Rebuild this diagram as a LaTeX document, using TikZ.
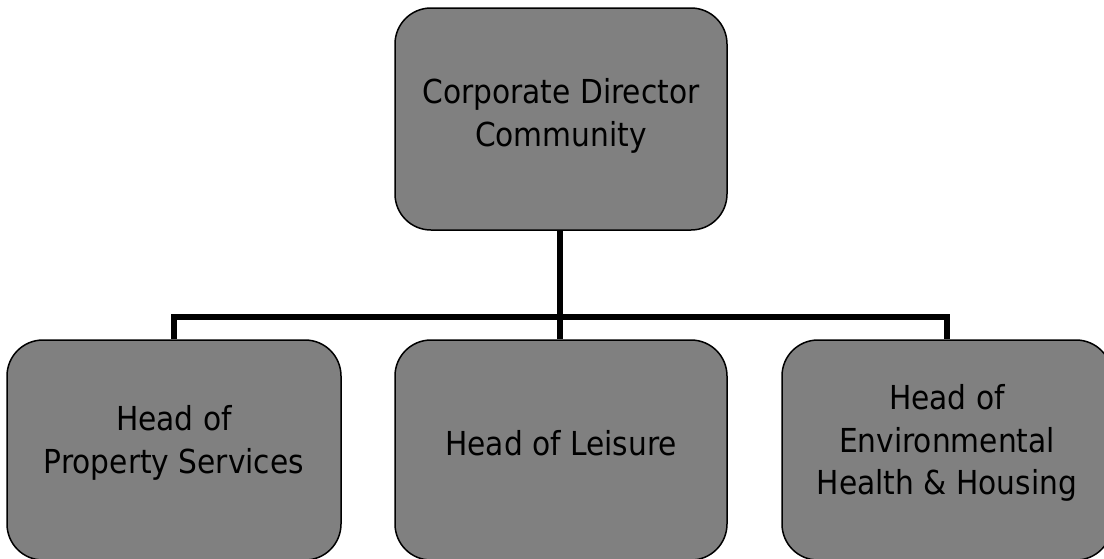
\documentclass[tikz,border=0pt]{standalone}
\usepackage{fontspec}
\setmainfont{DejaVu Sans Condensed}
\begin{document}
\begin{tikzpicture}[x=1pt,y=1pt,
  box/.style={draw=black, line width=1.5pt, fill=boxgray, rounded corners=36pt, inner sep=0pt},
  lbl/.style={align=center, font=\fontsize{33}{42.5}\selectfont, text=black, inner sep=0pt},
  conn/.style={line width=6.5pt, line join=miter, draw=black}]
\definecolor{boxgray}{HTML}{808080}
\useasboundingbox (0,0) rectangle (1104,-558);
\clip (0,0) rectangle (1104,-558);
\fill[white] (0,0) rectangle (1104,-558);
\node[box, minimum width=332pt, minimum height=222pt] (top) at (561,-119) {};
\node[box, minimum width=334pt, minimum height=220pt] (a) at (174,-450) {};
\node[box, minimum width=332pt, minimum height=220pt] (b) at (561,-450) {};
\node[box, minimum width=330pt, minimum height=220pt] (c) at (947,-450) {};
\node[lbl] (ttop) at (561,-116) {Corporate Director\\Community};
\node[lbl] (ta) at (174,-443) {Head of\\Property Services};
\node[lbl] (tb) at (561,-443) {Head of Leisure};
\node[lbl] (tc) at (947,-443) {Head of\\Environmental\\Health \& Housing};
\coordinate (j) at (560,-317);
\draw[conn] (top.south -| j) -- (b.north -| j);
\draw[conn] (a.north) -- (a.north |- j) -- (c.north |- j) -- (c.north);
\end{tikzpicture}
\end{document}
